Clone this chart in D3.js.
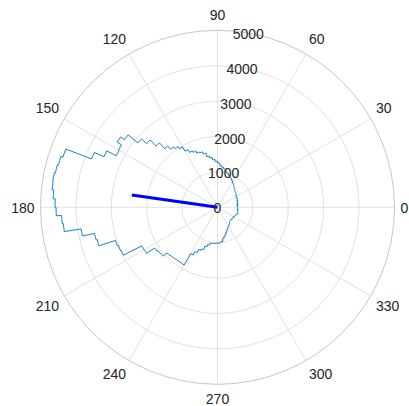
<!DOCTYPE html>
<html>
<head>
<meta charset="utf-8">
<script src="https://cdn.jsdelivr.net/npm/d3@7"></script>
<style>
  html, body { margin: 0; padding: 0; background: #ffffff; }
  svg { display: block; }
  text { font-family: "Liberation Sans", Arial, Helvetica, sans-serif; font-size: 14px; fill: #262626; }
</style>
</head>
<body>
<svg id="chart" width="409" height="406"></svg>
<script>
// Angular bins: each one is 3 degrees wide, starting at these angles (degrees, counter-clockwise from east)
const binStarts = d3.range(0, 360, 3);
const binWidth = 3;

// Counts per bin, in the order of binStarts
const binCounts = [
  560, 580, 550, 590, 570, 600, 580, 610, 600, 620,
  610, 640, 650, 660, 680, 700, 720, 760, 790, 820,
  860, 900, 930, 960, 1000, 1050, 1100, 1140, 1180, 1250,
  1300, 1350, 1420, 1460, 1560, 1620, 1640, 1700, 1740, 1830,
  1970, 2050, 2110, 2230, 2450, 2690, 2890, 3250, 3380, 3230,
  3210, 3510, 3810, 4590, 4650, 4680, 4710, 4700, 4650, 4590,
  4560, 4410, 4380, 3900, 3550, 3520, 3030, 3000, 2980, 2400,
  2390, 2110, 2080, 2060, 1920, 1900, 1890, 1880, 1870, 1880,
  1510, 1400, 1300, 1260, 1150, 1090, 1040, 1030, 1020, 1010,
  1020, 1000, 980, 900, 850, 800, 750, 700, 660, 630,
  610, 580, 560, 530, 520, 510, 530, 520, 540, 520,
  540, 550, 560, 580, 600, 590, 580, 570, 580, 560
];

// Resultant (mean) vector: direction in degrees and length in counts
const meanAngle = [171.8];
const meanLength = [2445];

// Axis ticks
const rTicks = [0, 1000, 2000, 3000, 4000, 5000];
const thetaTicks = d3.range(0, 360, 30);

const cx = 217.5, cy = 207.3, R = 177;
const svg = d3.select("#chart");
const g = svg.append("g").attr("transform", `translate(${cx},${cy})`);

const r = d3.scaleLinear().domain([0, 5000]).range([0, R]);
const toRad = d => d * Math.PI / 180;
// math angle (ccw from east) -> screen x/y
const px = (deg, rr) => rr * Math.cos(toRad(deg));
const py = (deg, rr) => -rr * Math.sin(toRad(deg));

// Concentric grid rings
g.append("g").selectAll("circle")
  .data(rTicks.filter(t => t > 0 && t < 5000))
  .join("circle")
  .attr("r", d => r(d))
  .attr("fill", "none")
  .attr("stroke", "#e1e1e1")
  .attr("stroke-width", 1);

// Spokes every 30 degrees
g.append("g").selectAll("line")
  .data(thetaTicks)
  .join("line")
  .attr("x1", 0).attr("y1", 0)
  .attr("x2", d => px(d, R))
  .attr("y2", d => py(d, R))
  .attr("stroke", "#e1e1e1")
  .attr("stroke-width", 1);

// Outer boundary
g.append("circle")
  .attr("r", r(5000))
  .attr("fill", "none")
  .attr("stroke", "#c6c6c6")
  .attr("stroke-width", 1);

// Stair outline of the angular histogram: an arc per bin joined by radial steps
const p = d3.path();
binStarts.forEach((a0, i) => {
  const rr = r(binCounts[i]);
  const a1 = a0 + binWidth;
  if (i === 0) p.moveTo(px(a0, rr), py(a0, rr));
  // canvas angles run clockwise, so negate and draw anticlockwise
  p.arc(0, 0, rr, -toRad(a0), -toRad(a1), true);
});
p.closePath();
g.append("path")
  .attr("d", p.toString())
  .attr("fill", "none")
  .attr("stroke", "#0072BD")
  .attr("stroke-width", 0.9)
  .attr("stroke-linejoin", "miter");

// Mean resultant vector
g.append("line")
  .attr("x1", 0).attr("y1", 0)
  .attr("x2", px(meanAngle[0], r(meanLength[0])))
  .attr("y2", py(meanAngle[0], r(meanLength[0])))
  .attr("stroke", "#0000FF")
  .attr("stroke-width", 3);

// Angle labels around the outside
const labR = 183;
g.append("g").selectAll("text")
  .data(thetaTicks)
  .join("text")
  .attr("x", d => labR * Math.cos(toRad(d)))
  .attr("y", d => {
    const s = Math.sin(toRad(d));
    const sg = Math.abs(s) < 1e-6 ? 0 : Math.sign(s);
    const below = s < -1e-6 ? -1.8 : 0.5;
    return -(186 * s + 7.3 * sg) + below;
  })
  .attr("text-anchor", d => {
    const c = Math.cos(toRad(d));
    return c > 0.01 ? "start" : (c < -0.01 ? "end" : "middle");
  })
  .attr("dominant-baseline", "central")
  .text(d => d);

// Radial tick labels along the 80 degree direction
const rAxisAngle = 80;
g.append("g").selectAll("text")
  .data(rTicks)
  .join("text")
  .attr("x", d => px(rAxisAngle, r(d)))
  .attr("y", d => py(rAxisAngle, r(d)) + 1)
  .attr("text-anchor", "middle")
  .attr("dominant-baseline", "central")
  .text(d => d);
</script>
</body>
</html>
